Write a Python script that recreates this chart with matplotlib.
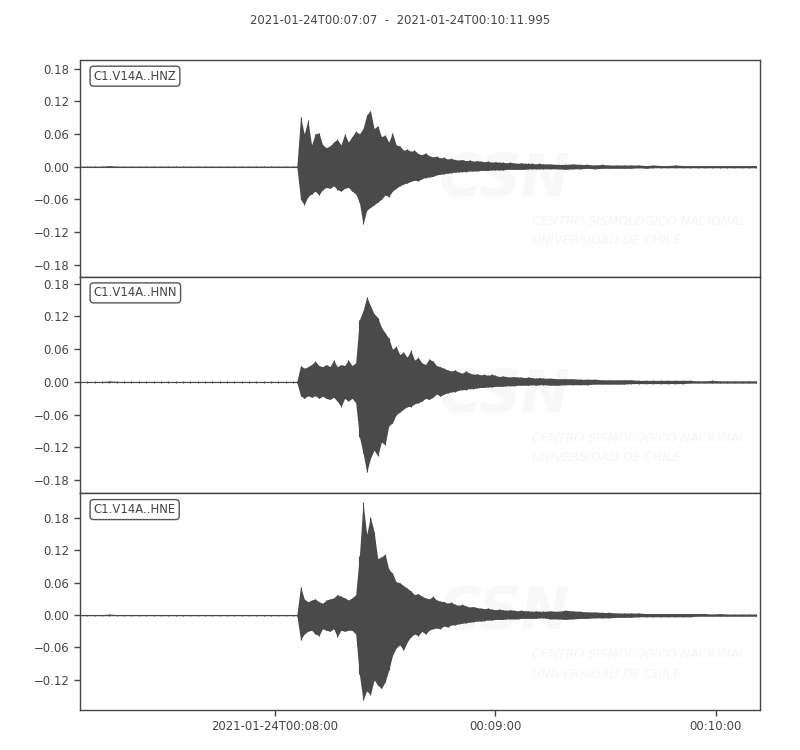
import datetime
import matplotlib
matplotlib.use('Agg')
import matplotlib.pyplot as plt
import matplotlib.dates as mdates
import numpy as np

# Trace info
start_time = datetime.datetime(2021, 1, 24, 0, 7, 7)
end_time = datetime.datetime(2021, 1, 24, 0, 10, 11, 995000)
title = '2021-01-24T00:07:07  -  2021-01-24T00:10:11.995'
channels = ['C1.V14A..HNZ', 'C1.V14A..HNN', 'C1.V14A..HNE']

# Sample times (seconds after start): pre-event every 2 s, event every 1 s, coda every 2 s
t_pre = np.arange(0, 59, 2)
t_main = np.arange(59, 127)
t_tail = np.arange(128, 186, 2)

# Envelope readings (upper / lower peak per sample), in units of 0.001
pre_up = [1, 1, 1, 1, 2, 1, 1, 1, 1, 1, 1, 1, 1, 1, 1, 1, 1, 1, 1, 1,
          1, 1, 1, 1, 1, 1, 1, 1, 1, 1]
pre_lo = [-1, -1, -1, -1, -1, -1, -1, -1, -1, -1, -1, -1, -1, -1, -1, -1, -1, -1, -1, -1,
          -1, -1, -1, -1, -1, -1, -1, -1, -1, -1]

hnz_up = [1, 92, 60, 85, 40, 60, 62, 40, 35, 38, 45, 50, 40, 60, 45, 55, 65, 60, 70, 95,
          103, 70, 75, 55, 58, 45, 62, 40, 38, 30, 32,
          28, 30, 24, 22, 25, 20, 18, 19, 16, 17, 14, 15, 13, 12, 13, 11, 12, 10, 11, 10,
          9, 10, 8, 9, 8, 8, 7, 8, 7, 6, 7, 6, 6, 6, 5, 6, 5]
hnz_lo = [-1, -60, -70, -55, -50, -45, -52, -42, -38, -40, -35, -42, -45, -40, -38, -45,
          -50, -65, -106, -80, -75, -70, -65, -60, -52, -55, -45, -40, -35, -32, -30,
          -27, -25, -26, -22, -20, -19, -18, -15, -14, -13, -12, -11, -10, -10, -9, -9,
          -8, -8, -8, -7, -7, -7, -6, -6, -6, -6, -5, -5, -5, -5, -5, -5, -4, -4, -4, -4, -4]
hnz_tail_up = [5, 4, 4, 5, 4, 4, 3, 4, 3, 3, 3, 3, 3, 2, 3, 2, 2, 3, 2, 2,
               2, 2, 2, 2, 2, 2, 2, 2, 2]
hnz_tail_lo = [-4, -4, -5, -4, -4, -3, -4, -3, -3, -3, -3, -3, -2, -3, -2, -2, -2, -2, -2, -2,
               -2, -2, -2, -2, -2, -2, -2, -2, -2]

hnn_up = [1, 30, 25, 28, 32, 38, 30, 28, 32, 28, 40, 28, 32, 30, 40, 30, 35, 114, 130, 156,
          140, 125, 118, 100, 90, 80, 60, 65, 50, 55, 45,
          58, 40, 45, 35, 32, 42, 38, 30, 28, 25, 22, 20, 22, 18, 16, 20, 16, 14, 15, 13,
          14, 12, 14, 12, 10, 11, 10, 9, 10, 9, 9, 8, 9, 8, 7, 8, 7]
hnn_lo = [-1, -25, -30, -25, -28, -25, -30, -26, -30, -32, -28, -35, -45, -30, -35, -30,
          -38, -100, -130, -165, -140, -125, -135, -110, -115, -80, -75, -60, -55, -50, -45,
          -45, -40, -38, -35, -30, -32, -28, -22, -26, -22, -20, -18, -18, -15, -14, -14,
          -12, -12, -11, -10, -10, -9, -9, -8, -8, -8, -7, -7, -7, -6, -6, -6, -6, -5, -6, -5, -5]
hnn_tail_up = [7, 6, 6, 6, 5, 5, 5, 4, 4, 4, 4, 4, 3, 3, 3, 3, 3, 3, 3, 3,
               2, 2, 3, 2, 2, 2, 2, 2, 2]
hnn_tail_lo = [-6, -6, -5, -5, -5, -5, -4, -4, -4, -4, -4, -3, -3, -3, -3, -3, -3, -3, -3, -2,
               -2, -2, -2, -2, -2, -2, -2, -2, -2]

hne_up = [1, 53, 30, 25, 28, 30, 25, 22, 28, 30, 32, 38, 35, 32, 28, 32, 38, 110, 209, 150,
          182, 155, 105, 108, 113, 85, 78, 62, 60, 55, 50,
          45, 38, 40, 35, 32, 30, 35, 28, 26, 25, 22, 24, 20, 18, 20, 17, 15, 16, 14, 13,
          12, 13, 11, 10, 11, 10, 9, 10, 9, 8, 9, 8, 8, 7, 8, 7, 7]
hne_lo = [-1, -46, -35, -30, -28, -35, -38, -25, -28, -30, -25, -40, -28, -30, -28, -28,
          -35, -110, -158, -140, -148, -120, -130, -136, -124, -102, -75, -61, -55, -65, -50,
          -40, -35, -38, -30, -35, -28, -25, -24, -25, -20, -22, -18, -18, -16, -15, -14,
          -13, -12, -11, -11, -10, -9, -9, -8, -8, -8, -7, -7, -7, -7, -6, -6, -6, -6, -6, -5, -5]
hne_tail_up = [8, 7, 9, 8, 7, 6, 6, 5, 5, 4, 4, 4, 4, 3, 3, 3, 3, 3, 3, 3,
               3, 3, 2, 3, 2, 2, 2, 2, 2]
hne_tail_lo = [-7, -7, -8, -7, -6, -6, -5, -5, -5, -4, -4, -4, -3, -3, -3, -3, -3, -3, -3, -3,
               -2, -2, -2, -2, -2, -2, -2, -2, -2]

y_limits = [(-0.202, 0.196), (-0.204, 0.193), (-0.176, 0.226)]
y_ticks = [[-0.18, -0.12, -0.06, 0.0, 0.06, 0.12, 0.18],
           [-0.18, -0.12, -0.06, 0.0, 0.06, 0.12, 0.18],
           [-0.12, -0.06, 0.0, 0.06, 0.12, 0.18]]
x_tick_times = ['2021-01-24T00:08:00', '2021-01-24T00:09:00', '2021-01-24T00:10:00']
x_tick_labels = ['2021-01-24T00:08:00', '00:09:00', '00:10:00']

traces = [(hnz_up, hnz_lo, hnz_tail_up, hnz_tail_lo),
          (hnn_up, hnn_lo, hnn_tail_up, hnn_tail_lo),
          (hne_up, hne_lo, hne_tail_up, hne_tail_lo)]

grey = '#444444'
wave = '#4a4a4a'
plt.rcParams['font.family'] = ['DejaVu Sans']
plt.rcParams['font.size'] = 8.4

t_all = np.concatenate([t_pre, t_main, t_tail])
x0 = mdates.date2num(start_time)
x_all = x0 + t_all / 86400.0

fig = plt.figure(figsize=(8, 7.5), dpi=100)
left, width = 0.1, 0.85
bottom0, height = 0.0533, 0.28893

for i in range(3):
    b = bottom0 + (2 - i) * height
    ax = fig.add_axes([left, b, width, height])
    up, lo, tail_up, tail_lo = traces[i]
    upper = np.array(pre_up + up + tail_up) / 1000.0
    lower = np.array(pre_lo + lo + tail_lo) / 1000.0
    ax.fill_between(x_all, lower, upper, color=wave, lw=0, zorder=2)
    ax.vlines(x_all, lower, upper, color=wave, lw=0.8, zorder=2)
    ax.plot(x_all, np.zeros(len(x_all)), color=wave, lw=0.8, zorder=2)

    # faint CSN watermark
    ax.text(0.625, 0.45, 'CSN', transform=ax.transAxes, ha='center', va='center',
            fontsize=42, fontweight='bold', style='italic', color='#f8f8f8', zorder=0)
    ax.text(0.665, 0.255, 'CENTRO SISMOLÓGICO NACIONAL', transform=ax.transAxes,
            ha='left', va='center', fontsize=9, style='italic', color='#f6f6f6',
            zorder=0, clip_on=True)
    ax.text(0.665, 0.165, 'UNIVERSIDAD DE CHILE', transform=ax.transAxes,
            ha='left', va='center', fontsize=9, style='italic', color='#f6f6f6',
            zorder=0, clip_on=True)

    ax.text(0.02, 0.925, channels[i], transform=ax.transAxes, ha='left', va='center',
            color=grey, fontsize=8.4,
            bbox=dict(boxstyle='round,pad=0.3', fc='white', ec='#555555', lw=1))

    ax.set_xlim(x0, mdates.date2num(end_time))
    ax.set_ylim(*y_limits[i])
    ax.set_yticks(y_ticks[i])
    ax.set_yticklabels(['{:.2f}'.format(v).replace('-', '\u2212') for v in y_ticks[i]])
    for s in ax.spines.values():
        s.set_color(grey)
        s.set_linewidth(1.0)
    ax.tick_params(axis='y', colors=grey, length=4, width=1, labelsize=8.4)
    if i < 2:
        ax.tick_params(axis='x', bottom=False, labelbottom=False)
    else:
        ticks = [mdates.date2num(datetime.datetime.fromisoformat(s)) for s in x_tick_times]
        ax.set_xticks(ticks)
        ax.set_xticklabels(x_tick_labels)
        ax.tick_params(axis='x', colors=grey, length=4, width=1, labelsize=8.4)

fig.text(0.5, 0.973, title, ha='center', va='center', color=grey, fontsize=8.4)

fig.savefig('out.png', dpi=100)
